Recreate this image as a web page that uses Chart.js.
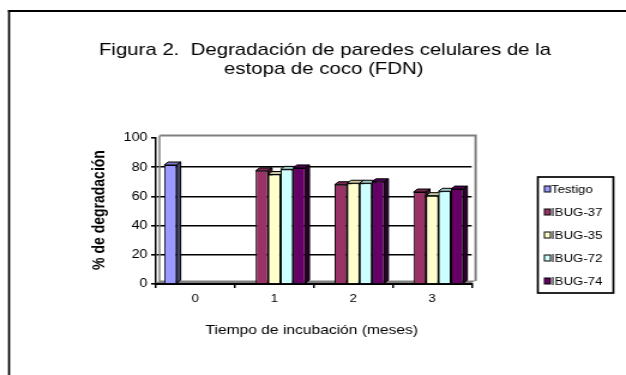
<!DOCTYPE html>
<html lang="es">
<head>
<meta charset="utf-8">
<title>Figura 2</title>
<script src="https://cdn.jsdelivr.net/npm/chart.js@4.4.0/dist/chart.umd.min.js"></script>
<style>
    html, body { margin: 0; padding: 0; background: #fff; overflow: hidden; }
    /* el original esta estirado en horizontal (~1.2x) */
    #marco { position: relative; width: 522px; height: 375px; transform: scaleX(1.1992); transform-origin: 0 0; }
</style>
</head>
<body>
<div id="marco"><canvas id="grafica"></canvas></div>
<script>
// ========== Datos ==========
const MESES = ['0', '1', '2', '3'];
const SERIES = ['Testigo', 'IBUG-37', 'IBUG-35', 'IBUG-72', 'IBUG-74'];
const TESTIGO = [81.5, null, null, null];
const IBUG_37 = [null, 77.5, 68, 63];
const IBUG_35 = [null, 75, 69, 60.5];
const IBUG_72 = [null, 78.5, 69, 63.5];
const IBUG_74 = [null, 79.5, 70, 65];
const EJE_Y = [0, 20, 40, 60, 80, 100];

const COLORES = ['#9999FF', '#993366', '#FFFFCC', '#CCFFFF', '#660066'];
const FUENTE = '"Liberation Sans", Arial, sans-serif';

// profundidad del efecto 3D
const PROF_X = 3.3;
const PROF_Y = 3;

function oscurecer(hex, f) {
    const n = parseInt(hex.slice(1), 16);
    const r = Math.round(((n >> 16) & 255) * f);
    const g = Math.round(((n >> 8) & 255) * f);
    const b = Math.round((n & 255) * f);
    return `rgb(${r},${g},${b})`;
}

function poligono(c, pts, relleno) {
    c.beginPath();
    c.moveTo(pts[0][0], pts[0][1]);
    for (let i = 1; i < pts.length; i++) c.lineTo(pts[i][0], pts[i][1]);
    c.closePath();
    c.fillStyle = relleno;
    c.fill();
    c.lineWidth = 1;
    c.strokeStyle = '#000';
    c.stroke();
}

// textos, marco, pared del fondo y caras 3D
const decoracion = {
    id: 'decoracion',
    beforeDraw(chart) {
        const c = chart.ctx;
        c.save();
        c.fillStyle = '#fff';
        c.fillRect(0, 0, chart.width, chart.height);
        c.fillStyle = '#000';
        c.fillRect(6.7, 10, 1.7, chart.height);
        c.fillRect(6.7, 10, chart.width, 2);

        c.textAlign = 'center';
        c.textBaseline = 'alphabetic';
        c.font = '17px ' + FUENTE;
        c.fillText('Figura 2.  Degradación de paredes celulares de la', 271, 55);
        c.fillText('estopa de coco (FDN)', 270, 74);

        c.font = '13px ' + FUENTE;
        c.fillText('Tiempo de incubación (meses)', 260, 334);

        c.save();
        c.translate(83, 210);
        c.rotate(-Math.PI / 2);
        c.font = 'bold 14px ' + FUENTE;
        c.textBaseline = 'middle';
        c.fillText('% de degradación', 0, 0);
        c.restore();
        c.restore();
    },
    beforeDatasetsDraw(chart) {
        const c = chart.ctx;
        const a = chart.chartArea;
        c.save();
        // pared del fondo
        c.strokeStyle = '#808080';
        c.lineWidth = 2;
        c.beginPath();
        c.moveTo(a.left + PROF_X, a.top - 2.5);
        c.lineTo(a.right + PROF_X, a.top - 2.5);
        c.lineTo(a.right + PROF_X, a.bottom - PROF_Y);
        c.stroke();
        c.lineWidth = 1.5;
        c.beginPath();
        c.moveTo(a.left + 3, a.top - 2.5);
        c.lineTo(a.left + 3, a.bottom - PROF_Y);
        c.stroke();
        // piso
        c.fillStyle = '#808080';
        c.beginPath();
        c.moveTo(a.left, a.bottom - 1);
        c.lineTo(a.left + PROF_X, a.bottom - PROF_Y - 0.5);
        c.lineTo(a.right + PROF_X, a.bottom - PROF_Y - 0.5);
        c.lineTo(a.right, a.bottom - 1);
        c.closePath();
        c.fill();

        // caras superior y lateral de cada barra
        chart.data.datasets.forEach((ds, i) => {
            const meta = chart.getDatasetMeta(i);
            meta.data.forEach((bar, j) => {
                if (ds.data[j] == null || isNaN(bar.y)) return;
                const izq = bar.x - bar.width / 2;
                const der = bar.x + bar.width / 2;
                poligono(c, [[izq, bar.y], [izq + PROF_X, bar.y - PROF_Y], [der + PROF_X, bar.y - PROF_Y], [der, bar.y]],
                    oscurecer(COLORES[i], 0.78));
                poligono(c, [[der, bar.y], [der + PROF_X, bar.y - PROF_Y], [der + PROF_X, bar.base - PROF_Y], [der, bar.base]],
                    oscurecer(COLORES[i], 0.45));
            });
        });
        c.restore();
    },
    afterDraw(chart) {
        const c = chart.ctx;
        c.save();
        // leyenda
        c.lineWidth = 1.7;
        c.strokeStyle = '#000';
        c.strokeRect(448.5, 177, 63, 116);
        c.font = '11px ' + FUENTE;
        c.textAlign = 'left';
        c.textBaseline = 'middle';
        SERIES.forEach((nombre, i) => {
            const cy = 189 + i * 23;
            c.fillStyle = COLORES[i];
            c.fillRect(454, cy - 3, 5, 6);
            c.lineWidth = 1;
            c.strokeRect(454, cy - 3, 5, 6);
            c.fillStyle = '#000';
            c.fillText(nombre, 459.5, cy + 0.5);
        });
        c.restore();
    }
};

function crearGrafica() {
    const ctx = document.getElementById('grafica');
    const valores = [TESTIGO, IBUG_37, IBUG_35, IBUG_72, IBUG_74];
    new Chart(ctx, {
        type: 'bar',
        data: {
            labels: MESES,
            datasets: SERIES.map((nombre, i) => ({
                label: nombre,
                data: valores[i],
                backgroundColor: COLORES[i],
                borderColor: '#000',
                borderWidth: 1,
                categoryPercentage: 0.79,
                barPercentage: 1.0
            }))
        },
        options: {
            responsive: true,
            maintainAspectRatio: false,
            animation: false,
            events: [],
            layout: { padding: { top: 138, right: 128.7, bottom: 0, left: 0 } },
            plugins: { legend: { display: false }, title: { display: false }, tooltip: { enabled: false } },
            scales: {
                x: {
                    afterFit: (s) => { s.height = 91; },
                    grid: { offset: true, drawOnChartArea: false, color: '#000', tickLength: 4, lineWidth: 1.5 },
                    border: { color: '#000', width: 2 },
                    ticks: { color: '#000', font: { family: FUENTE, size: 11 }, padding: 4 }
                },
                y: {
                    min: EJE_Y[0],
                    max: EJE_Y[EJE_Y.length - 1],
                    afterFit: (s) => { s.width = 130; },
                    grid: {
                        color: (g) => (g.tick.value === 0 || g.tick.value === 100) ? 'rgba(0,0,0,0)' : '#000',
                        tickColor: '#000',
                        lineWidth: 1.6,
                        tickLength: 4
                    },
                    border: { color: '#000', width: 1.5 },
                    ticks: { color: '#000', stepSize: 20, font: { family: FUENTE, size: 12 }, padding: 3 }
                }
            }
        },
        plugins: [decoracion]
    });
}

window.onload = function() {
    crearGrafica();
};
</script>
</body>
</html>
